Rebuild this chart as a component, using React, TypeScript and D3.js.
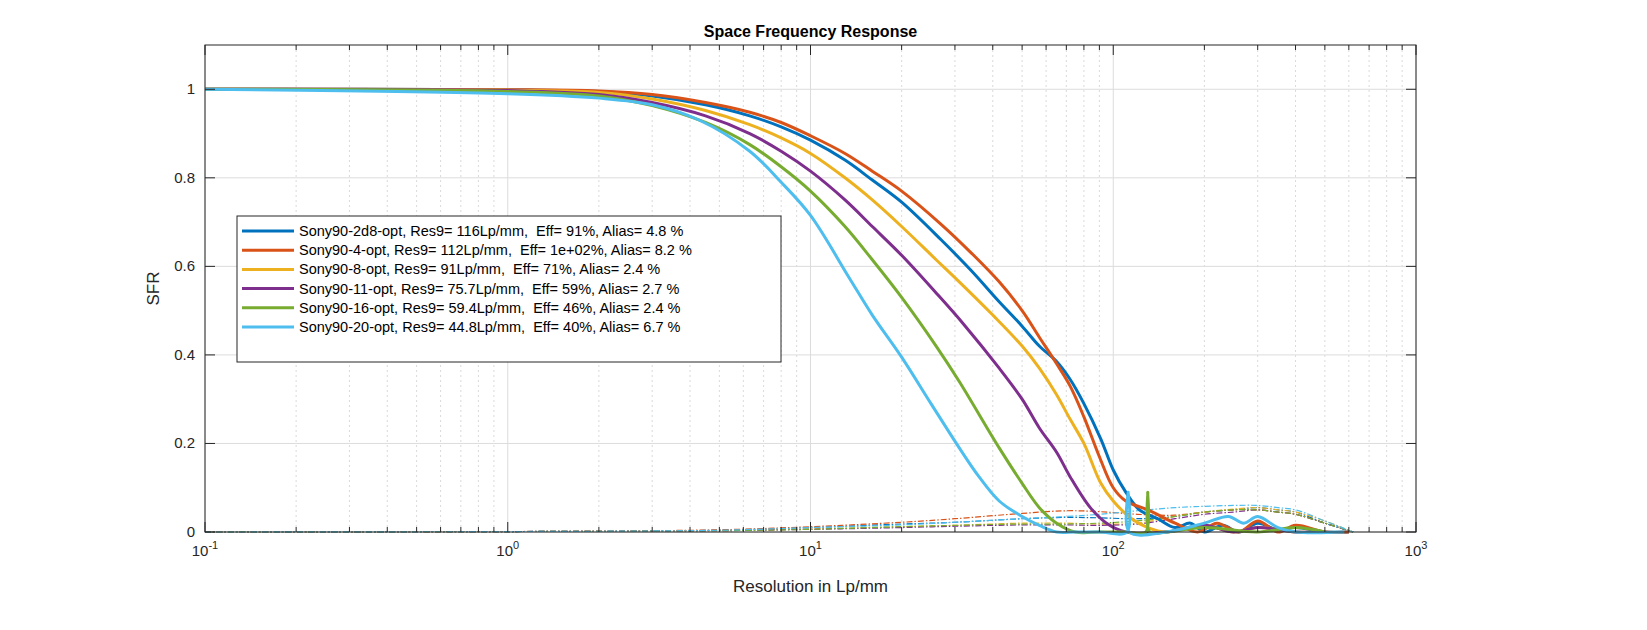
import React from "react";
import * as d3 from "d3";

const names = [
  "Sony90-2d8-opt, Res9= 116Lp/mm,  Eff= 91%, Alias= 4.8 %",
  "Sony90-4-opt, Res9= 112Lp/mm,  Eff= 1e+02%, Alias= 8.2 %",
  "Sony90-8-opt, Res9= 91Lp/mm,  Eff= 71%, Alias= 2.4 %",
  "Sony90-11-opt, Res9= 75.7Lp/mm,  Eff= 59%, Alias= 2.7 %",
  "Sony90-16-opt, Res9= 59.4Lp/mm,  Eff= 46%, Alias= 2.4 %",
  "Sony90-20-opt, Res9= 44.8Lp/mm,  Eff= 40%, Alias= 6.7 %",
];
const colors = ["#0072BD", "#D95319", "#EDB120", "#7E2F8E", "#77AC30", "#4DBEEE"];

const freqBlue = [0.1, 1, 2, 3, 4.5, 6.3, 8, 10, 13, 16, 20, 27, 34, 42, 50, 57, 65, 72, 80, 91, 100, 110, 122, 140, 160, 180, 200, 230, 260, 300, 350, 400, 500, 600];
const sfrBlue = [1, 0.999, 0.995, 0.985, 0.965, 0.94, 0.915, 0.885, 0.84, 0.795, 0.745, 0.66, 0.59, 0.52, 0.465, 0.42, 0.385, 0.345, 0.29, 0.21, 0.14, 0.09, 0.05, 0.03, 0.01, 0.02, 0.0, 0.015, 0.0, 0.02, 0.005, 0.01, 0.0, 0];
const freqOrange = [0.1, 1, 2, 3, 4.5, 6.3, 8, 10, 13, 16, 20, 27, 34, 42, 50, 57, 65, 72, 80, 90, 100, 110, 130, 160, 190, 220, 260, 300, 350, 400, 500, 600];
const sfrOrange = [1, 0.999, 0.996, 0.988, 0.97, 0.948, 0.925, 0.895, 0.855, 0.815, 0.77, 0.695, 0.63, 0.565, 0.5, 0.44, 0.38, 0.33, 0.26, 0.17, 0.1, 0.07, 0.05, 0.02, 0.0, 0.02, 0.0, 0.025, 0.0, 0.015, 0.0, 0];
const freqYellow = [0.1, 1, 2, 3, 4.5, 6.3, 8, 10, 13, 16, 20, 26, 31, 40, 50, 57, 65, 72, 80, 91, 100, 115, 130, 150, 200, 250, 300, 400, 500];
const sfrYellow = [1, 0.998, 0.993, 0.978, 0.952, 0.92, 0.89, 0.855, 0.8, 0.75, 0.69, 0.615, 0.565, 0.49, 0.42, 0.37, 0.31, 0.255, 0.2, 0.11, 0.07, 0.03, 0.01, 0.0, 0.015, 0.0, 0.01, 0.0, 0];
const freqPurple = [0.1, 1, 2, 3, 4.5, 6.3, 8, 10, 13, 16, 20, 26, 32, 42, 50, 57, 65, 72, 84, 95, 110, 150, 200, 250, 300, 400, 500];
const sfrPurple = [1, 0.997, 0.988, 0.97, 0.94, 0.9, 0.86, 0.815, 0.75, 0.69, 0.625, 0.54, 0.47, 0.37, 0.3, 0.235, 0.18, 0.125, 0.055, 0.02, 0.0, 0.0, 0.015, 0.0, 0.01, 0.0, 0];
const freqGreen = [0.1, 1, 2, 3, 4.5, 6.3, 8, 10, 13, 16, 20, 26, 31, 42, 50, 57, 65, 75, 90, 110, 128, 130, 132, 150, 200, 300, 400, 500];
const sfrGreen = [1, 0.995, 0.985, 0.963, 0.925, 0.875, 0.825, 0.77, 0.69, 0.615, 0.53, 0.42, 0.34, 0.19, 0.11, 0.055, 0.02, 0.0, 0.0, 0.0, 0.0, 0.09, 0.0, 0.0, 0.01, 0.0, 0.01, 0];
const freqLight = [0.1, 1, 2, 3, 4.3, 6.3, 8, 10, 13.4, 16, 20, 25, 31, 36, 42, 50, 57, 65, 75, 90, 111, 112, 113, 150, 200, 240, 270, 300, 350, 400, 580];
const sfrLight = [1, 0.99, 0.98, 0.965, 0.93, 0.86, 0.79, 0.715, 0.575, 0.49, 0.395, 0.29, 0.19, 0.125, 0.07, 0.035, 0.015, 0.0, 0.0, 0.0, 0.0, 0.09, 0.0, 0.0, 0.02, 0.035, 0.02, 0.035, 0.01, 0.0, 0];

const aliasFreq = [0.1, 1, 5, 10, 20, 30, 50, 70, 90, 120, 160, 200, 250, 300, 350, 400, 500, 620];
const aliasBlue = [0, 0.001, 0.004, 0.01, 0.018, 0.022, 0.03, 0.033, 0.032, 0.03, 0.035, 0.045, 0.05, 0.055, 0.05, 0.045, 0.02, 0];
const aliasOrange = [0, 0.001, 0.005, 0.012, 0.022, 0.03, 0.042, 0.048, 0.046, 0.04, 0.038, 0.045, 0.05, 0.05, 0.045, 0.04, 0.02, 0];
const aliasYellow = [0, 0.001, 0.003, 0.007, 0.012, 0.015, 0.02, 0.02, 0.018, 0.02, 0.035, 0.045, 0.052, 0.055, 0.05, 0.045, 0.025, 0];
const aliasPurple = [0, 0.001, 0.003, 0.006, 0.01, 0.013, 0.016, 0.016, 0.015, 0.018, 0.03, 0.04, 0.045, 0.05, 0.045, 0.04, 0.02, 0];
const aliasGreen = [0, 0.001, 0.003, 0.006, 0.012, 0.015, 0.018, 0.018, 0.02, 0.025, 0.035, 0.045, 0.05, 0.05, 0.045, 0.04, 0.02, 0];
const aliasLight = [0, 0.001, 0.004, 0.01, 0.016, 0.022, 0.03, 0.035, 0.04, 0.048, 0.055, 0.058, 0.06, 0.06, 0.055, 0.05, 0.025, 0];

const mainF = [freqBlue, freqOrange, freqYellow, freqPurple, freqGreen, freqLight];
const mainV = [sfrBlue, sfrOrange, sfrYellow, sfrPurple, sfrGreen, sfrLight];
const aliasV = [aliasBlue, aliasOrange, aliasYellow, aliasPurple, aliasGreen, aliasLight];
const yTicks = [0, 0.2, 0.4, 0.6, 0.8, 1];
const xDecades = [-1, 0, 1, 2, 3];

export default function App() {
  const L = 205, R = 1416, T = 45, B = 532;
  const x = d3.scaleLog().domain([0.1, 1000]).range([L, R]);
  const y = d3.scaleLinear().domain([0, 1.1]).range([B, T]);
  const line = (fs: number[], vs: number[]) =>
    d3.line<number>().x((_, i) => x(fs[i])).y((v) => Math.min(B, y(v))).curve(d3.curveCatmullRom.alpha(0.5))(vs) as string;
  const minors: number[] = [];
  for (let d = -1; d < 3; d++) for (let k = 2; k <= 9; k++) minors.push(k * Math.pow(10, d));
  const font = "Liberation Sans, Arial, sans-serif";
  return (
    <svg width={1647} height={630} style={{ position: "absolute", left: 0, top: 0, background: "#fff" }} fontFamily={font}>
      <rect x={0} y={0} width={1647} height={630} fill="#fff" />
      {minors.map((m) => (
        <line key={m} x1={x(m)} x2={x(m)} y1={T} y2={B} stroke="#d0d0d0" strokeDasharray="2,3" strokeWidth={0.8} />
      ))}
      {xDecades.map((d) => (
        <line key={d} x1={x(Math.pow(10, d))} x2={x(Math.pow(10, d))} y1={T} y2={B} stroke="#dcdcdc" />
      ))}
      {yTicks.map((t) => (
        <line key={t} x1={L} x2={R} y1={y(t)} y2={y(t)} stroke="#dcdcdc" />
      ))}
      {aliasV.map((a, i) => (
        <path key={"a" + i} d={line(aliasFreq, a)} fill="none" stroke={colors[i]} strokeWidth={1.2} strokeDasharray="6,2,1.5,2" />
      ))}
      {mainV.map((v, i) => (
        <path key={"m" + i} d={line(mainF[i], v)} fill="none" stroke={colors[i]} strokeWidth={3} strokeLinejoin="round" />
      ))}
      <rect x={L} y={T} width={R - L} height={B - T} fill="none" stroke="#262626" strokeWidth={1} />
      {yTicks.map((t) => (
        <g key={t}>
          <line x1={L} x2={L + 10} y1={y(t)} y2={y(t)} stroke="#262626" />
          <line x1={R} x2={R - 10} y1={y(t)} y2={y(t)} stroke="#262626" />
          <text x={L - 10} y={y(t) + 5} textAnchor="end" fontSize={15} fill="#262626">{t === 0 || t === 1 ? String(t) : t.toFixed(1)}</text>
        </g>
      ))}
      {xDecades.map((d) => (
        <g key={d}>
          <line x1={x(Math.pow(10, d))} x2={x(Math.pow(10, d))} y1={B} y2={B - 10} stroke="#262626" />
          <line x1={x(Math.pow(10, d))} x2={x(Math.pow(10, d))} y1={T} y2={T + 10} stroke="#262626" />
          <text x={x(Math.pow(10, d))} y={556} textAnchor="middle" fontSize={15} fill="#262626">
            10<tspan dy={-7} fontSize={11}>{d}</tspan>
          </text>
        </g>
      ))}
      {minors.map((m) => (
        <g key={"t" + m}>
          <line x1={x(m)} x2={x(m)} y1={B} y2={B - 5} stroke="#262626" />
          <line x1={x(m)} x2={x(m)} y1={T} y2={T + 5} stroke="#262626" />
        </g>
      ))}
      <text x={(L + R) / 2} y={37} textAnchor="middle" fontSize={16} fontWeight="bold" fill="#000">Space Frequency Response</text>
      <text x={(L + R) / 2} y={592} textAnchor="middle" fontSize={17} fill="#262626">Resolution in Lp/mm</text>
      <text transform={`translate(159,${(T + B) / 2}) rotate(-90)`} textAnchor="middle" fontSize={17} fill="#262626">SFR</text>
      <rect x={237} y={216} width={544} height={146} fill="#fff" stroke="#262626" />
      {names.map((n, i) => (
        <g key={n}>
          <line x1={242} x2={294} y1={231 + i * 19.2} y2={231 + i * 19.2} stroke={colors[i]} strokeWidth={3} />
          <text x={299} y={236 + i * 19.2} fontSize={14.5} fill="#000" style={{ whiteSpace: "pre" }}>{n}</text>
        </g>
      ))}
    </svg>
  );
}
